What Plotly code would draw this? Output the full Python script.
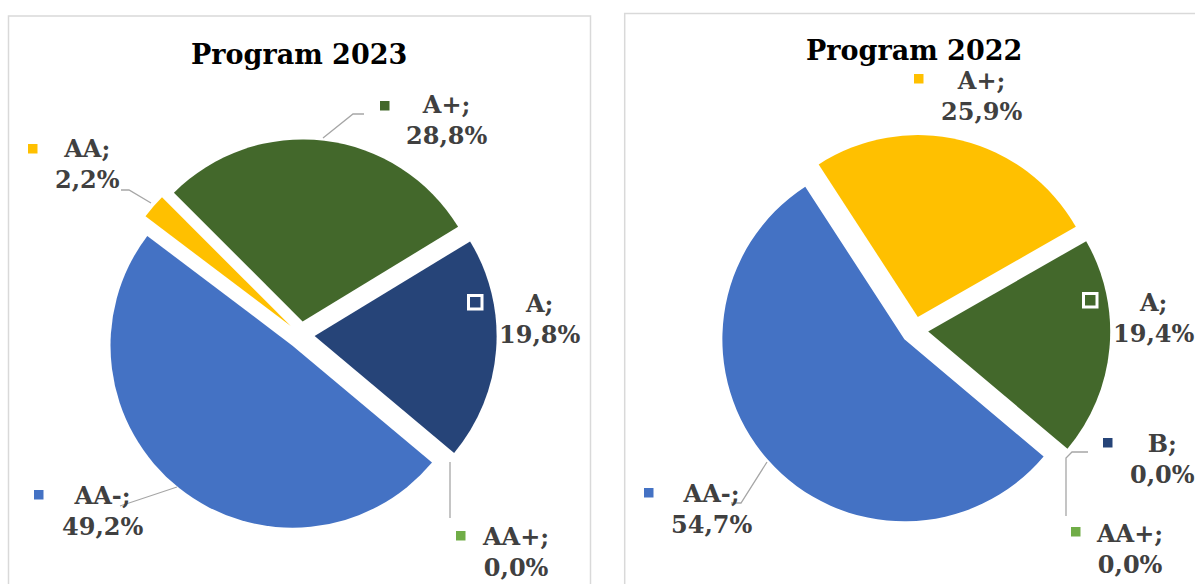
import plotly.graph_objects as go

W, H = 1195, 584

# data
labels_2023 = ["A+", "A", "AA+", "AA-", "AA"]
values_2023 = [28.8, 19.8, 0.0, 49.2, 2.2]
colors_2023 = ["#43682B", "#264478", "#70AD47", "#4472C4", "#FFC000"]

labels_2022 = ["A+", "A", "B", "AA+", "AA-"]
values_2022 = [25.9, 19.4, 0.0, 0.0, 54.7]
colors_2022 = ["#FFC000", "#43682B", "#264478", "#70AD47", "#4472C4"]

titles = ["Program 2023", "Program 2022"]

FONT = "DejaVu Serif"
TXT = "#404040"
LINE = "#A6A6A6"


def px(x, y):
    # pixel position -> paper coordinates
    return x / W, 1 - y / H


def dom(cx, cy, half):
    x0, y0 = px(cx - half, cy + half)
    x1, y1 = px(cx + half, cy - half)
    return dict(x=[x0, x1], y=[y0, y1])


# label layout: label -> (text centre x, text centre y, key x0, key y0, boxed key)
pos_2023 = {
    "A+": (446, 120, 380, 101, False),
    "A": (539, 319, 467, 294, True),
    "AA+": (515, 552, 456, 531, False),
    "AA-": (102, 511, 34, 490, False),
    "AA": (87, 164, 28, 144, False),
}
pos_2022 = {
    "A+": (982, 96, 914, 74, False),
    "A": (1153, 318, 1082, 292, True),
    "B": (1162, 459, 1103, 438, False),
    "AA+": (1129, 549, 1071, 527, False),
    "AA-": (711, 509, 644, 488, False),
}

leaders = [
    [(323, 138), (353, 114), (364, 114)],
    [(121, 190), (129, 190), (151, 203)],
    [(120, 506), (177, 487)],
    [(450, 462), (450, 518)],
    [(1088, 452), (1072, 452), (1066, 458), (1066, 516)],
    [(731, 503), (741, 503), (767, 462)],
]

PULL = 0.075
R = 182
half = R * (1 + PULL)

fig = go.Figure()
fig.add_trace(go.Pie(labels=labels_2023, values=values_2023, sort=False,
                     direction="clockwise", rotation=-45, pull=PULL,
                     marker=dict(colors=colors_2023), textinfo="none",
                     domain=dom(301, 335, half), showlegend=False))
fig.add_trace(go.Pie(labels=labels_2022, values=values_2022, sort=False,
                     direction="clockwise", rotation=-33, pull=PULL,
                     marker=dict(colors=colors_2022), textinfo="none",
                     domain=dom(914.6, 330.3, half), showlegend=False))

shapes = []
annotations = []

# chart area borders
for x0, x1, y0 in [(8.5, 590.5, 16), (624.7, 1210, 13.5)]:
    a = px(x0, y0)
    b = px(x1, 600)
    shapes.append(dict(type="rect", xref="paper", yref="paper",
                       x0=a[0], y0=a[1], x1=b[0], y1=b[1],
                       line=dict(color="#D9D9D9", width=1.5), layer="below"))

for t, (cx, cy) in zip(titles, [(298.5, 55), (914, 50.5)]):
    x, y = px(cx, cy)
    annotations.append(dict(text=t, x=x, y=y, xref="paper", yref="paper",
                            showarrow=False, xanchor="center", yanchor="middle",
                            borderpad=0,
                            font=dict(family=FONT, size=27, color="black",
                                      weight="bold")))

for labels, values, colors, pos in [
        (labels_2023, values_2023, colors_2023, pos_2023),
        (labels_2022, values_2022, colors_2022, pos_2022)]:
    for lab, val, col in zip(labels, values, colors):
        tx, ty, kx, ky, boxed = pos[lab]
        x, y = px(tx, ty)
        text = f"{lab};<br>{val:.1f}%".replace(".", ",")
        annotations.append(dict(text=text, x=x, y=y, xref="paper", yref="paper",
                                showarrow=False, xanchor="center",
                                yanchor="middle", align="center", borderpad=0,
                                font=dict(family=FONT, size=24, color=TXT,
                                          weight="bold")))
        if boxed:
            a = px(kx + 1.5, ky + 1.5)
            b = px(kx + 15, ky + 15)
            shapes.append(dict(type="rect", xref="paper", yref="paper",
                               x0=a[0], y0=a[1], x1=b[0], y1=b[1],
                               fillcolor=col, line=dict(color="white", width=3)))
        else:
            a = px(kx, ky)
            b = px(kx + 9.5, ky + 9.5)
            shapes.append(dict(type="rect", xref="paper", yref="paper",
                               x0=a[0], y0=a[1], x1=b[0], y1=b[1],
                               fillcolor=col, line=dict(width=0)))

for pts in leaders:
    path = ""
    for i, (lx, ly) in enumerate(pts):
        x, y = px(lx, ly)
        path += ("M" if i == 0 else " L") + f"{x:.5f},{y:.5f}"
    shapes.append(dict(type="path", xref="paper", yref="paper", path=path,
                       line=dict(color=LINE, width=1.3)))

fig.update_layout(width=W, height=H, margin=dict(l=0, r=0, t=0, b=0),
                  paper_bgcolor="white", plot_bgcolor="white",
                  shapes=shapes, annotations=annotations)

# drop the page's default body margin so the chart sits at the window corner
fig.write_html("out.html", config={"displayModeBar": False},
               post_script="document.body.style.margin='0';")
